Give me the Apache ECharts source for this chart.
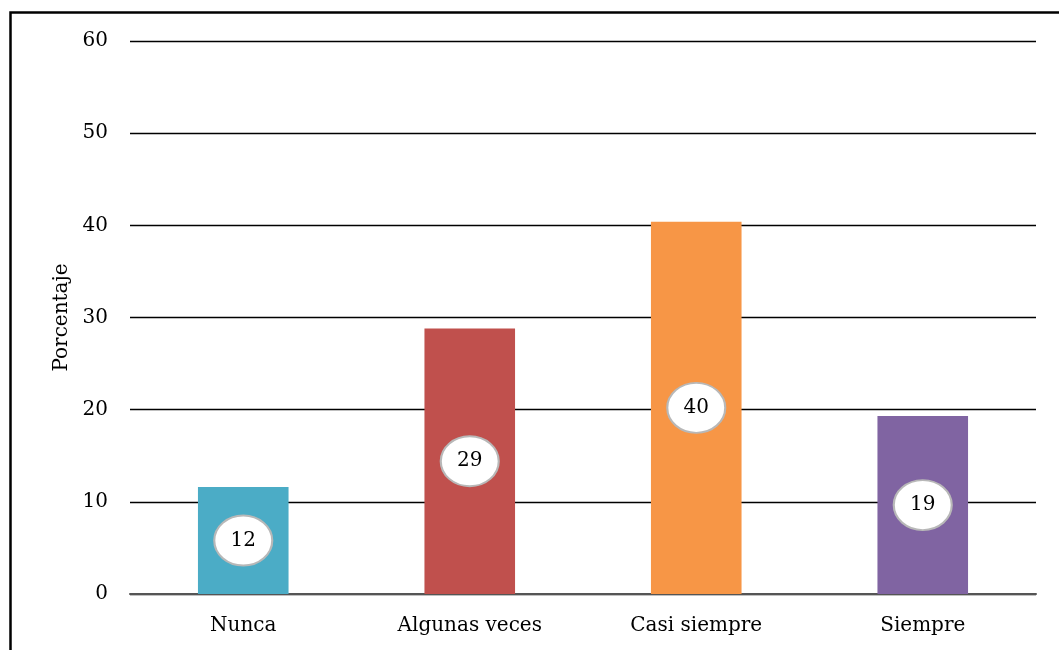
<!DOCTYPE html>
<html>
<head>
<meta charset="utf-8">
<script src="https://cdn.jsdelivr.net/npm/echarts@6/dist/echarts.min.js"></script>
<style>
html, body { margin: 0; padding: 0; background: #fff; }
#main { width: 1059px; height: 650px; }
</style>
</head>
<body>
<div id="main"></div>
<script>
var categories = ['Nunca', 'Algunas veces', 'Casi siempre', 'Siempre'];
var values = [11.6, 28.8, 40.4, 19.3];
var labels = [12, 29, 40, 19];
var colors = ['#4bacc6', '#c0504d', '#f79646', '#8064a2'];
var yTicks = [0, 10, 20, 30, 40, 50, 60];

var font = 'DejaVu Serif';
var chartDom = document.getElementById('main');
var myChart = echarts.init(chartDom, null, { renderer: 'canvas' });

// ellipse labels sit halfway up each bar
var labelPoints = values.map(function (v, i) { return [i, v / 2]; });

var option = {
    animation: false,
    graphic: [{
        type: 'rect',
        left: 8, top: 10,
        shape: { width: 1200, height: 800 },
        style: { fill: 'none', stroke: '#000', lineWidth: 2.5 }
    }],
    grid: { left: 130, right: 23, top: 41, bottom: 56 },
    xAxis: {
        type: 'category',
        data: categories,
        axisTick: { show: false },
        axisLine: { lineStyle: { color: '#555', width: 2 } },
        axisLabel: { color: '#000', fontFamily: font, fontSize: 20, margin: 22 }
    },
    yAxis: {
        type: 'value',
        min: yTicks[0], max: yTicks[yTicks.length - 1], interval: 10,
        name: 'Porcentaje',
        nameLocation: 'middle',
        nameGap: 58,
        nameTextStyle: { color: '#000', fontFamily: font, fontSize: 20 },
        axisLine: { show: false },
        axisTick: { show: false },
        axisLabel: { color: '#000', fontFamily: font, fontSize: 20, margin: 22 },
        splitLine: { lineStyle: { color: '#000', width: 1.3 } }
    },
    series: [
        {
            type: 'bar',
            barWidth: '40%',
            data: values.map(function (v, i) {
                return { value: v, itemStyle: { color: colors[i] } };
            })
        },
        {
            type: 'scatter',
            symbol: 'circle',
            symbolSize: [58, 50],
            z: 5,
            itemStyle: { color: '#fff', borderColor: '#b8b8b8', borderWidth: 2, opacity: 1 },
            label: {
                show: true,
                position: 'inside',
                color: '#000',
                fontFamily: font,
                fontSize: 20,
                formatter: function (p) { return labels[p.dataIndex]; }
            },
            data: labelPoints
        }
    ]
};

option && myChart.setOption(option);
</script>
</body>
</html>
